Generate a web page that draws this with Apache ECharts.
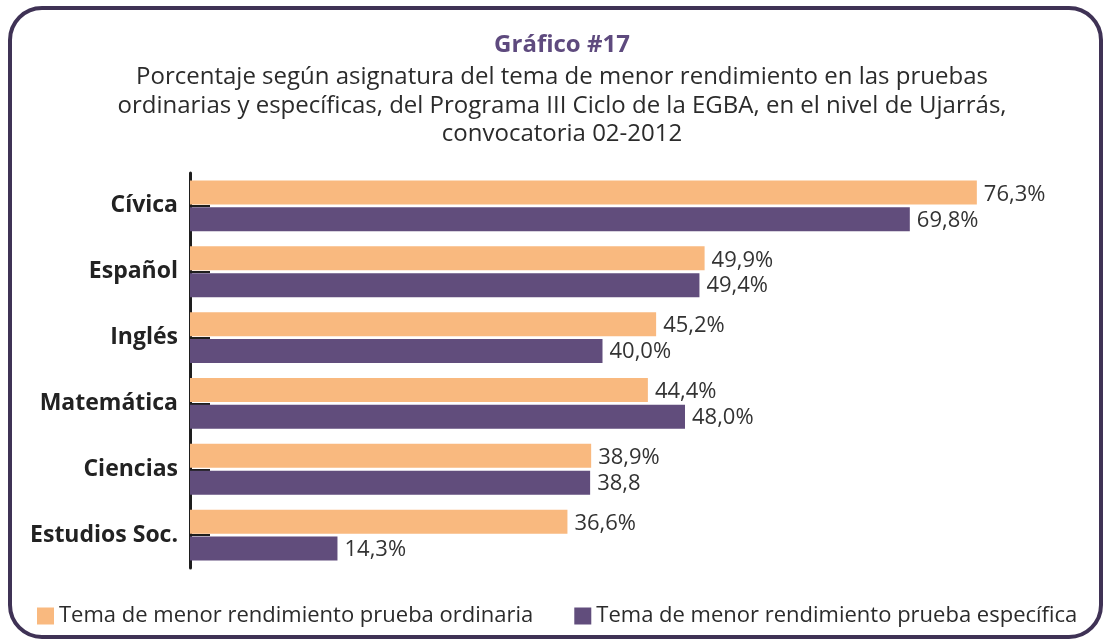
<!DOCTYPE html>
<html>
<head>
<meta charset="utf-8">
<script src="https://cdn.jsdelivr.net/npm/echarts@6/dist/echarts.min.js"></script>
<style>
  html, body { margin: 0; padding: 0; background: #fff; }
  #chart { width: 1108px; height: 644px; }
</style>
</head>
<body>
<div id="chart"></div>
<script>
// asignaturas (de arriba hacia abajo)
var asignaturas = ['Cívica', 'Español', 'Inglés', 'Matemática', 'Ciencias', 'Estudios Soc.'];

// porcentajes
var ordinaria = [76.3, 49.9, 45.2, 44.4, 38.9, 36.6];
var especifica = [69.8, 49.4, 40.0, 48.0, 38.8, 14.3];

// etiquetas tal como aparecen en el gráfico
var etiquetasOrdinaria = ['76,3%', '49,9%', '45,2%', '44,4%', '38,9%', '36,6%'];
var etiquetasEspecifica = ['69,8%', '49,4%', '40,0%', '48,0%', '38,8', '14,3%'];

var nombreOrd = 'Tema de menor rendimiento prueba ordinaria';
var nombreEsp = 'Tema de menor rendimiento prueba específica';

var FONT = '"Open Sans", Lato, sans-serif';

var myChart = echarts.init(document.getElementById('chart'));

var option = {
    backgroundColor: '#fff',
    textStyle: { fontFamily: FONT },
    graphic: [
        {
            type: 'rect',
            shape: { x: 10, y: 8, width: 1091, height: 629, r: 32 },
            style: { fill: 'none', stroke: '#3f3255', lineWidth: 4 }
        },
        {
            type: 'text',
            x: 562, y: 45,
            style: {
                text: 'Gráfico #17',
                textAlign: 'center', textVerticalAlign: 'middle',
                font: 'bold 24px ' + FONT,
                fill: '#5e4a7e'
            }
        },
        {
            type: 'text',
            x: 562, y: 63,
            style: {
                text: 'Porcentaje según asignatura del tema de menor rendimiento en las pruebas\n' +
                      'ordinarias y específicas, del Programa III Ciclo de la EGBA, en el nivel de Ujarrás,\n' +
                      'convocatoria 02-2012',
                textAlign: 'center',
                font: '24px ' + FONT,
                lineHeight: 28.5,
                fill: '#2b2b2b'
            }
        }
    ],
    legend: {
        left: 32,
        top: 600,
        icon: 'rect',
        itemWidth: 17,
        itemHeight: 17,
        itemGap: 41,
        textStyle: { fontSize: 22, color: '#2b2b2b', fontFamily: FONT },
        data: [nombreOrd, nombreEsp]
    },
    grid: {
        left: 190,
        top: 173,
        width: 825,
        height: 395
    },
    xAxis: {
        type: 'value',
        min: 0,
        max: 80,
        show: false
    },
    yAxis: {
        type: 'category',
        inverse: true,
        data: asignaturas,
        axisLine: { lineStyle: { color: '#1e1e1e', width: 3 } },
        axisTick: {
            show: true,
            inside: true,
            alignWithLabel: true,
            length: 20,
            lineStyle: { color: '#1e1e1e', width: 2 }
        },
        axisLabel: {
            margin: 12,
            fontSize: 23,
            fontWeight: 'bold',
            color: '#222',
            fontFamily: FONT
        }
    },
    series: [
        {
            name: nombreOrd,
            type: 'bar',
            data: ordinaria,
            barWidth: 24,
            barGap: '12%',
            itemStyle: { color: '#f9b97f' },
            label: {
                show: true,
                position: 'right',
                distance: 7,
                offset: [0, 2],
                fontSize: 22,
                color: '#333',
                fontFamily: FONT,
                formatter: function (p) { return etiquetasOrdinaria[p.dataIndex]; }
            }
        },
        {
            name: nombreEsp,
            type: 'bar',
            data: especifica,
            barWidth: 24,
            barGap: '12%',
            itemStyle: { color: '#614d7c' },
            label: {
                show: true,
                position: 'right',
                distance: 7,
                offset: [0, 1],
                fontSize: 22,
                color: '#333',
                fontFamily: FONT,
                formatter: function (p) { return etiquetasEspecifica[p.dataIndex]; }
            }
        }
    ]
};

myChart.setOption(option);
</script>
</body>
</html>
